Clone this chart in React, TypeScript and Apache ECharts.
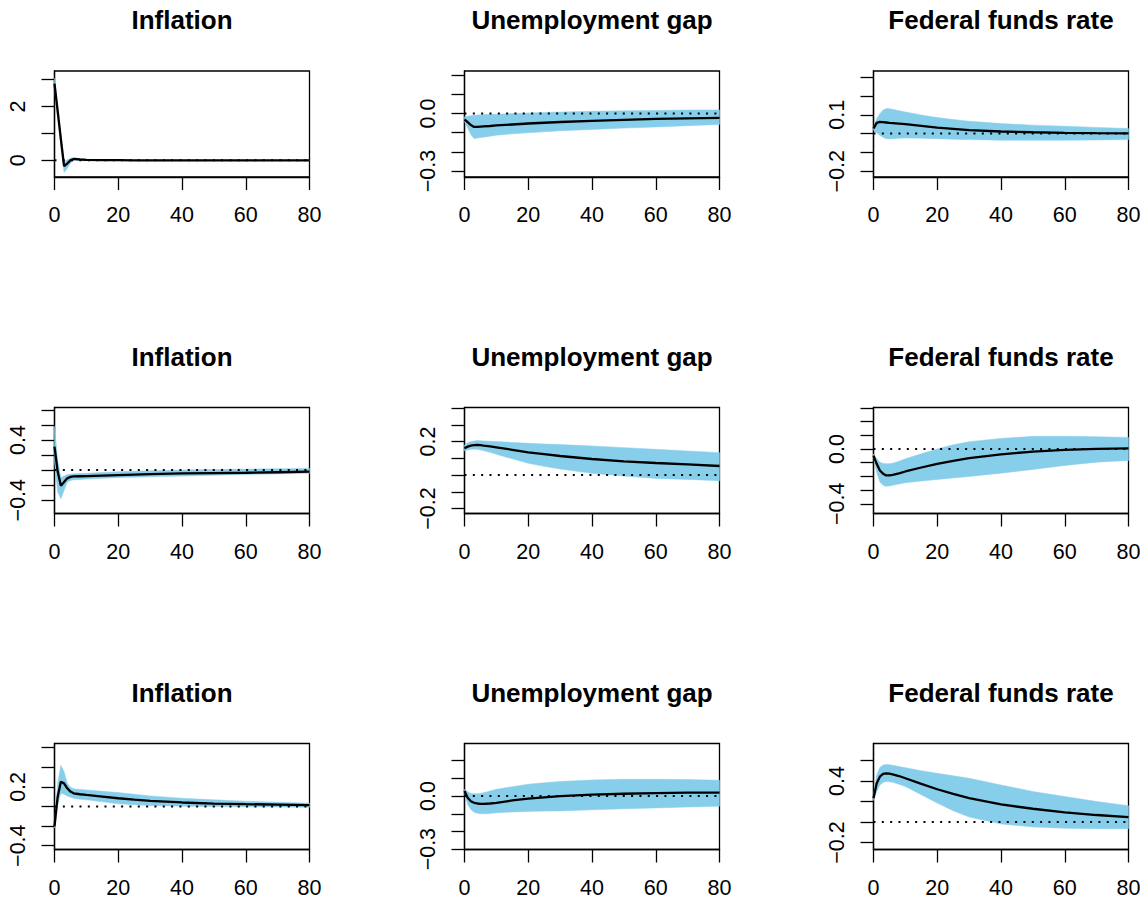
import React, { useEffect, useRef } from "react";
import * as echarts from "echarts";

const H = [0, 1, 2, 3, 4, 5, 6, 8, 10, 15, 20, 25, 30, 40, 50, 60, 70, 80];
const X_TICKS_INTERVAL = 20;
const TITLES = ["Inflation", "Unemployment gap", "Federal funds rate"];

// Row 1
const r1InflMean = [2.85, 1.82, 0.79, -0.22, -0.12, 0.0, 0.05, 0.03, 0.02, 0.01, 0.01, 0.0, 0.0, 0.0, 0.0, 0.0, 0.0, 0.0];
const r1InflUpper = [3.05, 2.05, 1.0, -0.05, 0.02, 0.08, 0.1, 0.06, 0.04, 0.02, 0.015, 0.01, 0.01, 0.01, 0.01, 0.01, 0.01, 0.01];
const r1InflLower = [2.65, 1.6, 0.55, -0.45, -0.3, -0.1, 0.0, 0.0, 0.0, 0.0, 0.0, -0.005, -0.005, -0.005, -0.005, -0.005, -0.005, -0.005];

const r1UnMean = [-0.031, -0.045, -0.06, -0.07, -0.069, -0.068, -0.067, -0.065, -0.062, -0.057, -0.052, -0.048, -0.044, -0.038, -0.033, -0.028, -0.025, -0.023];
const r1UnUpper = [-0.017, -0.014, -0.011, -0.009, -0.008, -0.006, -0.005, -0.004, -0.003, 0.0, 0.003, 0.006, 0.008, 0.012, 0.014, 0.016, 0.018, 0.019];
const r1UnLower = [-0.043, -0.075, -0.11, -0.13, -0.128, -0.125, -0.123, -0.118, -0.113, -0.106, -0.1, -0.095, -0.09, -0.083, -0.076, -0.07, -0.063, -0.057];

const r1FfMean = [0.027, 0.057, 0.062, 0.061, 0.059, 0.057, 0.056, 0.053, 0.05, 0.041, 0.032, 0.025, 0.018, 0.011, 0.007, 0.004, 0.002, 0.001];
const r1FfUpper = [0.035, 0.08, 0.106, 0.125, 0.133, 0.132, 0.129, 0.122, 0.115, 0.099, 0.085, 0.075, 0.066, 0.053, 0.045, 0.039, 0.033, 0.027];
const r1FfLower = [0.018, 0.005, -0.009, -0.02, -0.027, -0.027, -0.027, -0.025, -0.023, -0.025, -0.027, -0.03, -0.032, -0.035, -0.035, -0.035, -0.034, -0.032];

// Row 2
const r2InflMean = [0.31, -0.02, -0.21, -0.16, -0.11, -0.09, -0.085, -0.082, -0.08, -0.073, -0.067, -0.061, -0.055, -0.044, -0.04, -0.036, -0.029, -0.022];
const r2InflUpper = [0.58, 0.13, -0.1, -0.08, -0.06, -0.055, -0.05, -0.047, -0.044, -0.033, -0.022, -0.015, -0.008, 0.0, 0.007, 0.013, 0.018, 0.022];
const r2InflLower = [0.11, -0.29, -0.38, -0.27, -0.16, -0.14, -0.13, -0.125, -0.12, -0.11, -0.1, -0.095, -0.09, -0.08, -0.069, -0.058, -0.051, -0.044];

const r2UnMean = [0.16, 0.17, 0.176, 0.179, 0.18, 0.179, 0.176, 0.171, 0.166, 0.151, 0.136, 0.125, 0.114, 0.096, 0.082, 0.072, 0.064, 0.054];
const r2UnUpper = [0.18, 0.193, 0.2, 0.204, 0.206, 0.205, 0.204, 0.202, 0.2, 0.195, 0.19, 0.186, 0.182, 0.174, 0.164, 0.154, 0.144, 0.134];
const r2UnLower = [0.144, 0.15, 0.154, 0.155, 0.154, 0.15, 0.146, 0.136, 0.124, 0.097, 0.07, 0.052, 0.036, 0.01, -0.006, -0.02, -0.026, -0.034];

const r2FfMean = [-0.048, -0.108, -0.157, -0.18, -0.193, -0.192, -0.188, -0.177, -0.164, -0.135, -0.108, -0.086, -0.067, -0.039, -0.019, -0.007, 0.0, 0.005];
const r2FfUpper = [-0.036, -0.072, -0.096, -0.105, -0.108, -0.107, -0.104, -0.09, -0.072, -0.035, 0.0, 0.03, 0.053, 0.077, 0.092, 0.092, 0.089, 0.084];
const r2FfLower = [-0.06, -0.169, -0.24, -0.265, -0.272, -0.27, -0.265, -0.255, -0.246, -0.234, -0.222, -0.211, -0.2, -0.176, -0.149, -0.12, -0.096, -0.084];

// Row 3
const r3InflMean = [-0.203, 0.1, 0.253, 0.236, 0.186, 0.152, 0.135, 0.125, 0.118, 0.101, 0.084, 0.07, 0.057, 0.041, 0.03, 0.024, 0.019, 0.014];
const r3InflUpper = [-0.17, 0.236, 0.42, 0.355, 0.236, 0.196, 0.18, 0.174, 0.169, 0.155, 0.142, 0.125, 0.108, 0.084, 0.068, 0.054, 0.043, 0.034];
const r3InflLower = [-0.22, 0.017, 0.135, 0.125, 0.108, 0.095, 0.084, 0.075, 0.068, 0.048, 0.027, 0.018, 0.01, 0.003, 0.0, -0.003, -0.005, -0.007];

const r3UnMean = [0.029, -0.01, -0.029, -0.038, -0.042, -0.044, -0.044, -0.042, -0.038, -0.025, -0.015, -0.007, 0.0, 0.008, 0.013, 0.017, 0.019, 0.019];
const r3UnUpper = [0.038, 0.025, 0.015, 0.013, 0.013, 0.015, 0.019, 0.028, 0.038, 0.053, 0.067, 0.075, 0.082, 0.091, 0.095, 0.095, 0.093, 0.089];
const r3UnLower = [0.019, -0.048, -0.076, -0.091, -0.097, -0.1, -0.1, -0.099, -0.095, -0.09, -0.087, -0.085, -0.084, -0.078, -0.072, -0.067, -0.062, -0.057];

const r3FfMean = [0.232, 0.377, 0.442, 0.468, 0.474, 0.471, 0.465, 0.448, 0.426, 0.371, 0.319, 0.274, 0.232, 0.171, 0.129, 0.094, 0.068, 0.048];
const r3FfUpper = [0.265, 0.458, 0.532, 0.555, 0.561, 0.558, 0.552, 0.54, 0.529, 0.5, 0.474, 0.45, 0.426, 0.361, 0.297, 0.248, 0.2, 0.158];
const r3FfLower = [0.21, 0.297, 0.361, 0.384, 0.394, 0.392, 0.387, 0.368, 0.345, 0.265, 0.184, 0.11, 0.048, -0.019, -0.048, -0.061, -0.065, -0.065];

// y-axis ranges, ticks and labelled ticks per panel (row-major)
const Y_MIN = [-0.62, -0.331, -0.231, -0.577, -0.23, -0.47, -0.439, -0.302, -0.268];
const Y_MAX = [3.32, 0.222, 0.333, 0.831, 0.404, 0.302, 0.643, 0.297, 0.765];
const Y_TICKS = [
  [0, 1, 2, 3],
  [-0.3, -0.2, -0.1, 0, 0.1, 0.2],
  [-0.2, -0.1, 0, 0.1, 0.2, 0.3],
  [-0.4, -0.2, 0, 0.2, 0.4, 0.6, 0.8],
  [-0.2, -0.1, 0, 0.1, 0.2, 0.3, 0.4],
  [-0.4, -0.3, -0.2, -0.1, 0, 0.1, 0.2, 0.3],
  [-0.4, -0.2, 0, 0.2, 0.4, 0.6],
  [-0.3, -0.2, -0.1, 0, 0.1, 0.2],
  [-0.2, 0, 0.2, 0.4, 0.6],
];
const Y_LABELS = [
  [0, 2],
  [-0.3, 0],
  [-0.2, 0.1],
  [-0.4, 0.4],
  [-0.2, 0.2],
  [-0.4, 0],
  [-0.4, 0.2],
  [-0.3, 0],
  [-0.2, 0.4],
];
const Y_DECIMALS = [0, 1, 1, 1, 1, 1, 1, 1, 1];

const MEANS = [r1InflMean, r1UnMean, r1FfMean, r2InflMean, r2UnMean, r2FfMean, r3InflMean, r3UnMean, r3FfMean];
const UPPERS = [r1InflUpper, r1UnUpper, r1FfUpper, r2InflUpper, r2UnUpper, r2FfUpper, r3InflUpper, r3UnUpper, r3FfUpper];
const LOWERS = [r1InflLower, r1UnLower, r1FfLower, r2InflLower, r2UnLower, r2FfLower, r3InflLower, r3UnLower, r3FfLower];

// layout (pixels)
const COL_LEFT = [54.5, 464.5, 873.5];
const ROW_TOP = [71, 407.5, 743.5];
const BOX_W = 255;
const BOX_H = 106;
const FONT = "'Liberation Sans', Arial, Helvetica, sans-serif";
const BAND = "#87CEEB";

function fmt(v: number, d: number) {
  const s = Math.abs(v).toFixed(d);
  return (v < -1e-9 ? "\u2212" : "") + s;
}

export default function App() {
  const ref = useRef<HTMLDivElement>(null);
  useEffect(() => {
    if (!ref.current) return;
    const chart = echarts.init(ref.current, undefined, { renderer: "svg" });
    const axisLine = { color: "#000", width: 1.3 };
    const grids: any[] = [];
    const titles: any[] = [];
    const xAxes: any[] = [];
    const yAxes: any[] = [];
    const series: any[] = [];
    for (let i = 0; i < 9; i++) {
      const r = Math.floor(i / 3);
      const c = i % 3;
      grids.push({
        left: COL_LEFT[c],
        top: ROW_TOP[r],
        width: BOX_W,
        height: BOX_H,
        show: true,
        borderColor: "#000",
        borderWidth: 1.3,
        backgroundColor: "transparent",
      });
      titles.push({
        text: TITLES[c],
        left: COL_LEFT[c] + BOX_W / 2,
        top: ROW_TOP[r] - 64,
        textAlign: "center",
        padding: 0,
        textStyle: { fontSize: 26, fontWeight: "bold", color: "#000", fontFamily: FONT },
      });
      xAxes.push({
        type: "value",
        gridIndex: i,
        min: 0,
        max: 80,
        interval: X_TICKS_INTERVAL,
        axisLine: { show: true, onZero: false, lineStyle: axisLine },
        axisTick: { show: true, length: 13, lineStyle: axisLine },
        axisLabel: { margin: 27, fontSize: 21.5, color: "#000", fontFamily: FONT },
        splitLine: { show: false },
      });
      const dec = Y_DECIMALS[i];
      yAxes.push({
        type: "value",
        gridIndex: i,
        min: Y_MIN[i],
        max: Y_MAX[i],
        axisLine: { show: true, onZero: false, lineStyle: axisLine },
        axisTick: { show: true, length: 13, lineStyle: axisLine, customValues: Y_TICKS[i] },
        axisLabel: {
          customValues: Y_LABELS[i],
          rotate: 90,
          margin: 26,
          fontSize: 21.5,
          color: "#000",
          fontFamily: FONT,
          formatter: (v: number) => fmt(v, dec),
        },
        splitLine: { show: false },
      });
      const mean = MEANS[i];
      const up = UPPERS[i];
      const lo = LOWERS[i];
      series.push({
        type: "custom",
        xAxisIndex: i,
        yAxisIndex: i,
        silent: true,
        z: 1,
        data: [[0, 0]],
        renderItem: (_params: any, api: any) => {
          const pts: number[][] = [];
          for (let k = 0; k < H.length; k++) pts.push(api.coord([H[k], up[k]]));
          for (let k = H.length - 1; k >= 0; k--) pts.push(api.coord([H[k], lo[k]]));
          return { type: "polygon", shape: { points: pts }, style: { fill: BAND, stroke: BAND, lineWidth: 0.5 } };
        },
      });
      series.push({
        type: "line",
        xAxisIndex: i,
        yAxisIndex: i,
        silent: true,
        z: 2,
        symbol: "none",
        data: [[0, 0], [80, 0]],
        lineStyle: { color: "#000", width: 2, type: [2, 6.33], cap: "butt" },
      });
      series.push({
        type: "line",
        xAxisIndex: i,
        yAxisIndex: i,
        silent: true,
        z: 3,
        symbol: "none",
        data: H.map((x, k) => [x, mean[k]]),
        lineStyle: { color: "#000", width: 2.3 },
      });
    }
    chart.setOption({
      animation: false,
      backgroundColor: "#fff",
      title: titles,
      grid: grids,
      xAxis: xAxes,
      yAxis: yAxes,
      series,
    });
    return () => chart.dispose();
  }, []);
  return (
    <div
      ref={ref}
      style={{ position: "absolute", left: 0, top: 0, width: 1146, height: 903, background: "#fff" }}
    />
  );
}
